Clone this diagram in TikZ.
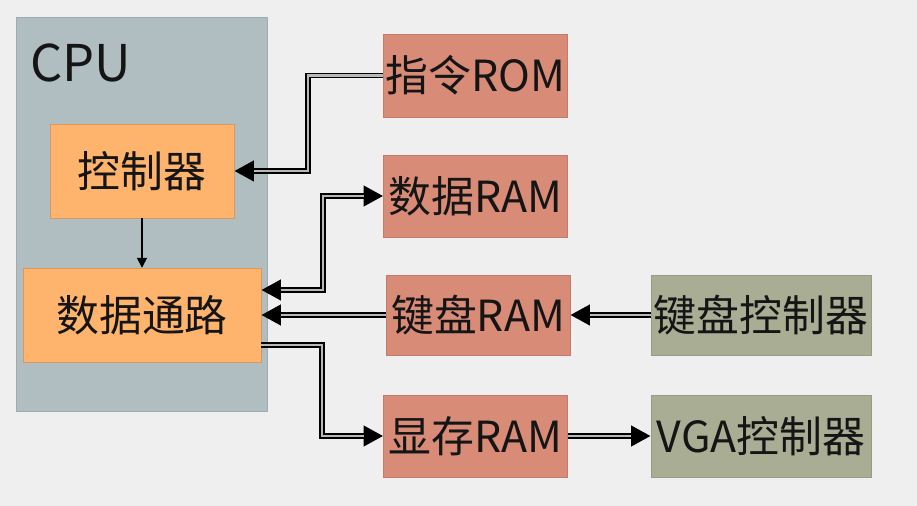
\documentclass[tikz,border=0pt]{standalone}
\usepackage{fontspec}
\setmainfont{Noto Sans CJK SC}
\usetikzlibrary{arrows.meta,positioning}
\definecolor{pageBg}{HTML}{EFEFEF}
\definecolor{cpuFill}{HTML}{B0BEC2}
\definecolor{coreFill}{HTML}{FFB46E}
\definecolor{memFill}{HTML}{D88B76}
\definecolor{devFill}{HTML}{A8AD93}
\definecolor{busInner}{HTML}{B8B8B8}
\definecolor{textMain}{HTML}{151515}

\begin{document}
\begin{tikzpicture}[
    >=Triangle,
    boxFont/.style={font=\fontsize{30.5}{36}\selectfont, text=textMain},
    cpuBox/.style={
        rectangle, fill=cpuFill, draw=cpuFill!90!black, line width=0.3pt,
        minimum width=6.275cm, minimum height=9.85cm
    },
    coreNode/.style={
        rectangle, boxFont, fill=coreFill, draw=coreFill!85!black, line width=0.3pt,
        minimum height=2.35cm, inner sep=0pt
    },
    memNode/.style={
        rectangle, boxFont, fill=memFill, draw=memFill!90!black, line width=0.3pt,
        minimum width=4.6cm, minimum height=2.05cm, inner sep=0pt
    },
    devNode/.style={
        rectangle, boxFont, fill=devFill, draw=devFill!90!black, line width=0.3pt,
        minimum width=5.5cm, minimum height=2.05cm, inner sep=0pt
    },
    busTip/.tip={Triangle[length=14pt,width=14pt]},
    bus/.style={
        draw=black, line width=4.2pt, -busTip,
        postaction={draw=busInner, line width=2pt, -, shorten >=14pt}
    },
    busBoth/.style={
        draw=black, line width=4.2pt, busTip-busTip,
        postaction={draw=busInner, line width=2pt, -, shorten <=14pt, shorten >=14pt}
    },
    ctrlFlow/.style={draw=black, line width=1.1pt, -{Triangle[length=7pt,width=7pt]}}
]

\useasboundingbox (0,0) rectangle (22.925,12.65);
\fill[pageBg] (0,0) rectangle (22.925,12.65);

% CPU side
\node[cpuBox] (Cpu) at (3.5375,7.3) {};
\node[font=\fontsize{36}{42}\selectfont, text=textMain, anchor=base west, inner sep=0pt]
  (CpuTitle) at (0.75,10.6) {CPU};
\node[coreNode, minimum width=4.6cm] (Ctrl) at (3.55,8.375) {控制器};
\node[coreNode, minimum width=5.95cm] (Datapath) at (3.55,4.775) {数据通路};

% memories and devices
\node[memNode, minimum height=2.075cm] (InstRom) at (11.8875,10.7625) {指令ROM};
\node[memNode] (DataRam) at (11.8875,7.75) {数据RAM};
\node[memNode, minimum height=2cm] (KbRam) at (11.95,4.775) {键盘RAM};
\node[memNode] (VRam) at (11.8875,1.75) {显存RAM};
\node[devNode, minimum height=2cm] (KbCtrl) at (19.025,4.775) {键盘控制器};
\node[devNode] (VgaCtrl) at (19.025,1.75) {VGA控制器};

\draw[ctrlFlow] (Ctrl.south) -- (Datapath.north);
\draw[bus] (InstRom.west) -| (7.7,9) |- (Ctrl.east);
\draw[busBoth] ([yshift=0.625cm]Datapath.east) -| (8.075,7) |- (DataRam.west);
\draw[bus] (KbRam.west) -- (Datapath.east);
\draw[bus] ([yshift=-0.75cm]Datapath.east) -| (8.05,3) |- (VRam.west);
\draw[bus] (KbCtrl.west) -- (KbRam.east);
\draw[bus] (VRam.east) -- (VgaCtrl.west);

\end{tikzpicture}
\end{document}
